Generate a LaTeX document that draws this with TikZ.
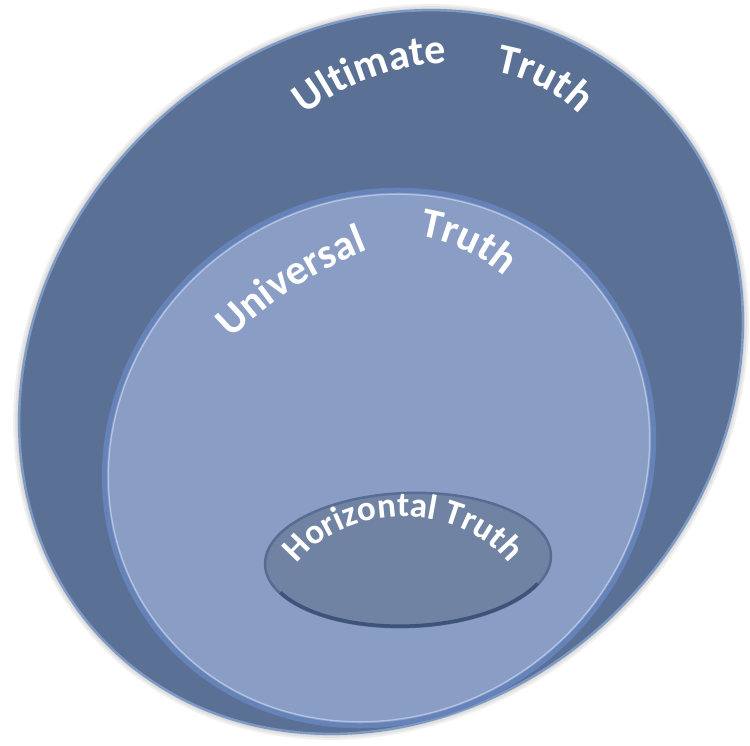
\documentclass[tikz,border=0pt]{standalone}
\usepackage{fontspec}
\setmainfont{Carlito}
\usetikzlibrary{decorations.text}

\definecolor{outerblue}{HTML}{5A7195}
\definecolor{outerrim}{HTML}{7E99C4}
\definecolor{midblue}{HTML}{8A9DC5}
\definecolor{midrim}{HTML}{6583B8}
\definecolor{midedge}{HTML}{B4C5E4}
\definecolor{innerblue}{HTML}{7183A3}
\definecolor{innerrim}{HTML}{566C93}
\definecolor{innershade}{HTML}{3E5379}

\newcommand{\bigword}{\bfseries\fontsize{24}{28}\selectfont}
\newcommand{\smallword}{\bfseries\fontsize{20}{24}\selectfont}

\tikzset{
  wordbig/.style={decorate, decoration={text along path, text align=center,
      text color=white, text={|\bigword|#1}}},
  wordsmall/.style={decorate, decoration={text along path, text align=center,
      text color=white, text={|\smallword|#1}}}
}

\begin{document}
\begin{tikzpicture}[x=0.02cm, y=0.02cm]
	\useasboundingbox (0,0) rectangle (750,745);

	% Centres of the three ellipses
	\coordinate (ultimate) at (381,373);
	\coordinate (universal) at (379,287);
	\coordinate (horizontal) at (408,185);

	% Soft shadow round the outer ellipse
	\foreach \g in {2,4,6}
		\fill[black, opacity=0.06, rotate around={45:(ultimate)}]
			(ultimate) ellipse [x radius=386+\g, y radius=336+\g];

	% Outer ellipse
	\draw[fill=outerblue, draw=outerrim, line width=0.05cm, rotate around={45:(ultimate)}]
		(ultimate) ellipse [x radius=386, y radius=336];

	% Middle ellipse
	\draw[fill=midblue, draw=midrim, line width=0.1cm, rotate around={35:(universal)}]
		(universal) ellipse [x radius=281, y radius=261];
	\draw[draw=midedge, line width=0.025cm, rotate around={35:(universal)}]
		(universal) ellipse [x radius=277, y radius=257];

	% Inner ellipse, darker on its lower edge
	\draw[fill=innerblue, draw=innerrim, line width=0.05cm, rotate around={2:(horizontal)}]
		(horizontal) ellipse [x radius=143, y radius=67];
	\draw[innershade, line width=0.07cm, rotate around={2:(horizontal)}]
		(horizontal) ++(205:142 and 66) arc [start angle=205, end angle=335, x radius=142, y radius=66];

	% Centres of the text arcs
	\coordinate (ultimatearc) at (455,439);
	\coordinate (ultimatetruth) at (470,520);
	\coordinate (universalarc) at (513,122);
	\coordinate (universaltruth) at (392,339);
	\coordinate (horizontalarc) at (403,128);

	% Labels along the arcs
	\path[wordbig=Ultimate] (ultimatearc) ++(140:243) arc [start angle=140, end angle=80, radius=243];
	\path[wordbig=Truth] (ultimatetruth) ++(93:155) arc [start angle=93, end angle=33, radius=155];
	\path[wordbig=Universal] (universalarc) ++(143:400) arc [start angle=143, end angle=103, radius=400];
	\path[wordbig=Truth] (universaltruth) ++(95:172) arc [start angle=95, end angle=35, radius=172];
	\path[wordsmall={Horizontal Truth}] (horizontalarc) ++(175:125 and 100) arc [start angle=175, end angle=5, x radius=125, y radius=100];
\end{tikzpicture}
\end{document}
